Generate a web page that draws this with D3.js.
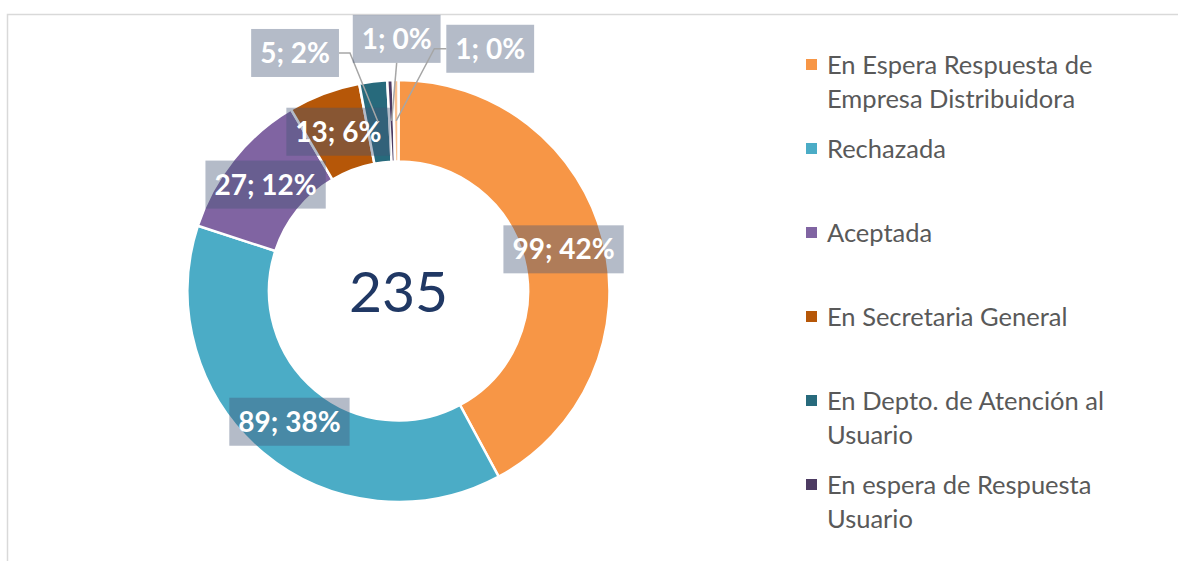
<!DOCTYPE html>
<html>
<head>
<meta charset="utf-8">
<script src="https://cdn.jsdelivr.net/npm/d3@7"></script>
<style>
  body { margin: 0; background: #fff; }
  svg { display: block; }
</style>
</head>
<body>
<div id="main"></div>
<script>
/*********************************************************
 * Data
 *********************************************************/
const categories = [
  'En Espera Respuesta de Empresa Distribuidora',
  'Rechazada',
  'Aceptada',
  'En Secretaria General',
  'En Depto. de Atención al Usuario',
  'En espera de Respuesta Usuario',
  'Otro'
];
const counts = [99, 89, 27, 13, 5, 1, 1];
const percentLabels = ['42%', '38%', '12%', '6%', '2%', '0%', '0%'];
const totalLabel = '235';

/*********************************************************
 * Layout
 *********************************************************/
const svgWidth = 1178;
const svgHeight = 561;
const center = { x: 398.5, y: 291 };
const outerR = 211;
const innerR = 129.5;
const colors = ['#F79646', '#4BACC6', '#8064A2', '#B65708', '#276A7C', '#4D3B62', '#FAC090'];

// small slices get their label pulled out with a leader line
const labelShift = {
  4: { dx: -83, dy: -69, side: 'right' },
  5: { dx: 5, dy: -82, side: 'bottom' },
  6: { dx: 94, dy: -72, side: 'left' }
};

const svg = d3
  .select('#main')
  .append('svg')
  .attr('width', svgWidth)
  .attr('height', svgHeight);

// chart area border (runs past the right and bottom edge)
svg.append('rect')
  .attr('x', 7.5)
  .attr('y', 14.5)
  .attr('width', svgWidth + 20)
  .attr('height', svgHeight + 20)
  .attr('fill', 'none')
  .attr('stroke', '#d9d9d9')
  .attr('stroke-width', 1.5);

const data = categories.map((c, i) => ({ name: c, value: counts[i], pct: percentLabels[i], i: i }));

const pie = d3.pie().sort(null).value(d => d.value);
const arc = d3.arc().innerRadius(innerR).outerRadius(outerR);
const labelArc = d3.arc().innerRadius((innerR + outerR) / 2).outerRadius((innerR + outerR) / 2);

const chart = svg.append('g')
  .attr('transform', `translate(${center.x}, ${center.y})`);

const arcs = pie(data);

chart.selectAll('.slice')
  .data(arcs)
  .enter()
  .append('path')
  .attr('class', 'slice')
  .attr('d', arc)
  .attr('fill', d => colors[d.data.i])
  .attr('stroke', '#fff')
  .attr('stroke-width', 2.5);

// center total
chart.append('text')
  .attr('x', 0)
  .attr('y', 0)
  .attr('dy', '0.36em')
  .attr('text-anchor', 'middle')
  .style('font-family', 'Lato, "Open Sans", sans-serif')
  .style('font-size', '57px')
  .attr('fill', '#203864')
  .text(totalLabel);

/*********************************************************
 * Data labels
 *********************************************************/
const boxH = 48;
const labels = chart.selectAll('.lbl')
  .data(arcs)
  .enter()
  .append('g')
  .attr('class', 'lbl');

labels.each(function(d) {
  const g = d3.select(this);
  const c = labelArc.centroid(d);
  const s = labelShift[d.data.i];
  const lx = s ? c[0] + s.dx : c[0];
  const ly = s ? c[1] + s.dy : c[1];

  const txt = g.append('text')
    .attr('x', lx)
    .attr('y', ly)
    .attr('dy', '0.36em')
    .attr('text-anchor', 'middle')
    .style('font-family', 'Lato, "Open Sans", sans-serif')
    .style('font-weight', 'bold')
    .style('font-size', '28px')
    .attr('fill', '#fff')
    .text(d.data.value + '; ' + d.data.pct);

  const w = txt.node().getComputedTextLength() + 18;

  g.insert('rect', 'text')
    .attr('x', lx - w / 2)
    .attr('y', ly - boxH / 2)
    .attr('width', w)
    .attr('height', boxH)
    .attr('fill', '#445675')
    .attr('fill-opacity', 0.4);

  if (s) {
    let pts;
    if (s.side === 'right') {
      const x0 = lx + w / 2;
      pts = [[x0, ly], [x0 + 11, ly], c];
    } else if (s.side === 'left') {
      const x0 = lx - w / 2;
      pts = [[x0, ly], [x0 - 12, ly], c];
    } else {
      pts = [[lx, ly + boxH / 2], c];
    }
    g.append('path')
      .attr('d', d3.line()(pts))
      .attr('fill', 'none')
      .attr('stroke', '#A6A6A6')
      .attr('stroke-width', 1.5);
  }
});

/*********************************************************
 * Legend
 *********************************************************/
const legendX = 806;
const legendY0 = 65;
const legendStep = 84;
const lineH = 34;
const wrapWidth = 310;

const legend = svg.append('g').attr('class', 'legend');

data.forEach((d, i) => {
  const y = legendY0 + i * legendStep;
  // the legend is clipped by the chart area: only entries that fit are shown
  if (y > svgHeight - 20) return;
  const item = legend.append('g');
  item.append('rect')
    .attr('x', legendX)
    .attr('y', y - 6)
    .attr('width', 11)
    .attr('height', 11)
    .attr('fill', colors[i]);

  const text = item.append('text')
    .style('font-family', 'Lato, "Open Sans", sans-serif')
    .style('font-size', '25.5px')
    .attr('fill', '#595959');

  // simple word wrap
  const words = d.name.split(' ');
  let line = [];
  let lineNo = 0;
  let tspan = text.append('tspan').attr('x', legendX + 21).attr('y', y).attr('dy', '0.35em');
  words.forEach(word => {
    line.push(word);
    tspan.text(line.join(' '));
    if (tspan.node().getComputedTextLength() > wrapWidth && line.length > 1) {
      line.pop();
      tspan.text(line.join(' '));
      line = [word];
      lineNo++;
      tspan = text.append('tspan')
        .attr('x', legendX + 21)
        .attr('y', y + lineNo * lineH)
        .attr('dy', '0.35em')
        .text(word);
    }
  });
});
</script>
</body>
</html>
